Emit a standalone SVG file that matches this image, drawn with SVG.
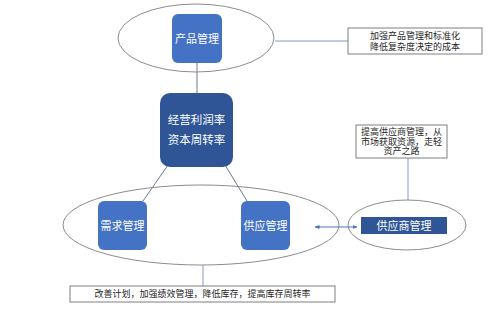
<svg xmlns="http://www.w3.org/2000/svg" width="499" height="310" viewBox="0 0 499 310">
<style>
.ell{fill:none;stroke:#8c8c8c;stroke-width:1}
.blue{fill:#4472C4}
.dark{fill:#2F5597}
.wt{fill:#ffffff;font-family:"Liberation Sans","Noto Sans CJK SC",sans-serif;text-anchor:middle;dominant-baseline:central}
.bt{fill:#262626;font-family:"Liberation Sans","Noto Sans CJK SC",sans-serif;text-anchor:middle;dominant-baseline:central;font-size:9px}
.tb{fill:#ffffff;stroke:#7f7f7f;stroke-width:1}
.ln{stroke:#6d7a8c;stroke-width:1;fill:none}
.bl{stroke:#7f9cc8;stroke-width:1;fill:none}
</style>
<defs>
<marker id="ah" viewBox="0 0 10 10" refX="9" refY="5" markerWidth="5" markerHeight="5" orient="auto-start-reverse">
<path d="M0,1 L10,5 L0,9 z" fill="#4472C4"/>
</marker>
</defs>
<rect width="499" height="310" fill="#ffffff"/>
<g id="connectors">
<line class="bl" x1="275" y1="41" x2="348" y2="41"/>
<line class="ln" x1="197" y1="63" x2="197" y2="93"/>
<line class="ln" x1="168" y1="165" x2="143" y2="201"/>
<line class="ln" x1="225" y1="165" x2="247" y2="201"/>
<line class="bl" x1="408" y1="158" x2="408" y2="200"/>
<line class="bl" x1="203" y1="265" x2="203" y2="286"/>
<line x1="315" y1="227" x2="357" y2="227" stroke="#4472C4" stroke-width="1" marker-start="url(#ah)" marker-end="url(#ah)"/>
</g>
<g id="product-ellipse"><ellipse class="ell" cx="196" cy="38" rx="78" ry="34"/></g>
<g id="product"><rect class="blue" x="172" y="14" width="50" height="49" rx="6"/><text class="wt" x="197" y="39" font-size="11">产品管理</text></g>
<g id="product-note"><rect class="tb" x="348" y="28" width="134" height="26"/><text class="bt" x="415" y="35.5">加强产品管理和标准化</text><text class="bt" x="415" y="46.5">降低复杂度决定的成本</text></g>
<g id="core"><rect class="dark" x="160" y="93" width="73" height="74" rx="10"/><text class="wt" x="196.5" y="120" font-size="11.5">经营利润率</text><text class="wt" x="196.5" y="140" font-size="11.5">资本周转率</text></g>
<g id="ops-ellipse"><ellipse class="ell" cx="201" cy="225" rx="138" ry="40"/></g>
<g id="demand"><rect class="blue" x="98" y="201" width="49" height="49" rx="6"/><text class="wt" x="122.5" y="225.5" font-size="11">需求管理</text></g>
<g id="supply"><rect class="blue" x="241" y="201" width="49" height="49" rx="6"/><text class="wt" x="265.5" y="225.5" font-size="11">供应管理</text></g>
<g id="supplier-ellipse"><ellipse class="ell" cx="407" cy="225" rx="59" ry="25"/></g>
<g id="supplier"><rect class="dark" x="361" y="217" width="86" height="17"/><text class="wt" x="404" y="225.5" font-size="11">供应商管理</text></g>
<g id="supplier-note"><rect class="tb" x="356" y="125" width="91" height="33"/><text class="bt" x="401.5" y="132">提高供应商管理，从</text><text class="bt" x="401.5" y="141.5">市场获取资源，走轻</text><text class="bt" x="401.5" y="151">资产之路</text></g>
<g id="ops-note"><rect class="tb" x="70" y="286" width="265" height="16"/><text class="bt" x="202.5" y="294">改善计划，加强绩效管理，降低库存，提高库存周转率</text></g>
</svg>
